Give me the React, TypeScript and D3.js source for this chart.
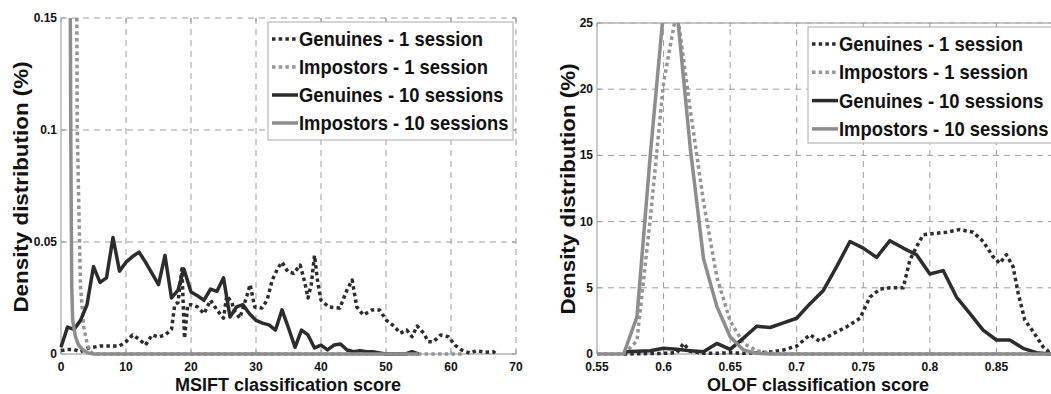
import * as d3 from 'd3';

type Pt = [number, number];

const W = 1051;
const H = 394;
const FONT = '"Liberation Sans", Arial, Helvetica, sans-serif';

const legendLabels = [
  'Genuines - 1 session',
  'Impostors - 1 session',
  'Genuines - 10 sessions',
  'Impostors - 10 sessions',
];

// MSIFT panel ticks
const msiftTicksX = [0, 10, 20, 30, 40, 50, 60, 70];
const msiftTicksY = [0, 0.05, 0.1, 0.15];
const msiftLabelsY = ['0', '0.05', '0.1', '0.15'];

// OLOF panel ticks (0.9 falls past the right edge, so it has no label)
const olofTicksX = [0.55, 0.6, 0.65, 0.7, 0.75, 0.8, 0.85, 0.9];
const olofLabelsX = ['0.55', '0.6', '0.65', '0.7', '0.75', '0.8', '0.85', ''];
const olofTicksY = [0, 5, 10, 15, 20, 25];

// MSIFT series (score, density)
const msiftGen1: Pt[] = [
  [0, 0.0015], [1, 0.002], [2, 0.002], [3, 0.001], [4, 0.0025], [5, 0.003], [6, 0.0036], [7, 0.0036],
  [8, 0.0036], [9, 0.0036], [10, 0.0055], [11, 0.0085], [12, 0.0067], [13, 0.004], [14, 0.0085],
  [15, 0.0076], [16, 0.0085], [17, 0.011], [17.5, 0.022], [18, 0.023], [18.6, 0.038], [19, 0.007],
  [19.5, 0.022], [20, 0.022], [21, 0.021], [22, 0.018], [23, 0.024], [24, 0.0196], [25, 0.016],
  [25.5, 0.026], [26.3, 0.023], [26.6, 0.0196], [27.5, 0.016], [28.6, 0.026], [29.1, 0.031],
  [29.8, 0.021], [30.9, 0.0205], [31.7, 0.024], [32.5, 0.033], [33.3, 0.038], [34, 0.041],
  [34.9, 0.0367], [35.8, 0.036], [36.8, 0.0397], [37.5, 0.032], [38, 0.025], [38.5, 0.031],
  [39, 0.044], [39.5, 0.032], [40, 0.024], [41.2, 0.021], [42.9, 0.0205], [44, 0.0286],
  [44.8, 0.033], [45.5, 0.021], [46.5, 0.0174], [47.8, 0.0196], [49, 0.0196], [50.1, 0.015],
  [51.2, 0.0125], [52.2, 0.0093], [53.2, 0.0107], [54, 0.0077], [54.8, 0.0125], [55.8, 0.0093],
  [56.5, 0.0055], [57.3, 0.0055], [58.4, 0.0085], [59.6, 0.0077], [60.6, 0.004], [61.6, 0.0018],
  [62.9, 0.0004], [63.9, 0.0015], [65.2, 0.0008], [66.5, 0.001], [67, 0],
];
const msiftImp1: Pt[] = [
  [2, 0.5], [2.5, 0.1], [3, 0.03], [3.5, 0.012], [4, 0.005], [4.5, 0.001], [5, 0], [62, 0],
];
const msiftGen10: Pt[] = [
  [0, 0.003], [1, 0.012], [2, 0.011], [3, 0.015], [4, 0.022], [5, 0.039], [6, 0.032], [7, 0.034],
  [8, 0.052], [9, 0.037], [10, 0.041], [11, 0.0435], [12, 0.0455], [13, 0.041], [14, 0.036],
  [15, 0.031], [16, 0.044], [17, 0.025], [18, 0.0285], [18.9, 0.038], [20, 0.0277], [21, 0.026],
  [22, 0.024], [23, 0.029], [24, 0.028], [25, 0.034], [26, 0.0165], [27, 0.021], [28, 0.022],
  [29, 0.018], [30, 0.015], [31, 0.0138], [32, 0.013], [33, 0.0107], [34, 0.0197], [35, 0.0116],
  [36, 0.003], [37, 0.0107], [38, 0.0085], [39, 0.0027], [40, 0.004], [41, 0.0018], [42, 0.004],
  [43, 0.0045], [44, 0.0018], [45, 0.001], [46, 0.0015], [47, 0.001], [48, 0.001], [49, 0.0005],
  [50, 0], [53, 0], [54, 0.001], [55, 0],
];
const msiftImp10: Pt[] = [
  [1, 0.5], [1.5, 0.1], [1.65, 0.03], [1.8, 0.015], [2.2, 0.008], [2.7, 0.004], [3.4, 0.0018],
  [4.2, 0.0005], [5, 0], [55, 0],
];

// OLOF series (score, density %)
const olofGen1: Pt[] = [
  [0.57, 0], [0.6, 0.05], [0.61, 0.1], [0.615, 0.8], [0.62, 0.2], [0.63, 0.05], [0.64, 0.05],
  [0.65, 0.1], [0.66, 0.05], [0.67, 0.1], [0.68, 0.15], [0.69, 0.3], [0.7, 0.6], [0.71, 1.45],
  [0.7175, 0.95], [0.7275, 1.55], [0.7375, 2.05], [0.7475, 2.7], [0.755, 4.3], [0.7625, 4.9],
  [0.77, 5.0], [0.78, 5.0], [0.785, 7.1], [0.79, 8.1], [0.795, 9.0], [0.8025, 9.1], [0.8125, 9.2],
  [0.8225, 9.4], [0.8325, 9.2], [0.84, 8.5], [0.8475, 7.35], [0.8525, 6.85], [0.8575, 7.5],
  [0.8625, 6.6], [0.8663, 4.6], [0.8713, 2.57], [0.8775, 1.7], [0.885, 0.55], [0.89, 0.1], [0.9, 0],
];
const olofImp1: Pt[] = [
  [0.55, 0], [0.57, 0], [0.58, 1], [0.59, 10.2], [0.6, 20.5], [0.61, 26], [0.62, 18.5], [0.63, 11.5],
  [0.64, 5.8], [0.65, 2.5], [0.66, 0.8], [0.67, 0.25], [0.68, 0.05], [0.69, 0], [0.9, 0],
];
const olofGen10: Pt[] = [
  [0.57, 0.17], [0.58, 0.2], [0.59, 0.25], [0.6, 0.43], [0.61, 0.35], [0.62, 0.25], [0.63, 0.17],
  [0.64, 0.8], [0.65, 0.35], [0.66, 1.2], [0.67, 2.1], [0.68, 2.0], [0.69, 2.35], [0.7, 2.7],
  [0.71, 3.8], [0.72, 4.8], [0.73, 6.6], [0.74, 8.5], [0.75, 8.0], [0.76, 7.3], [0.77, 8.56],
  [0.78, 8.0], [0.79, 7.5], [0.8, 6.04], [0.81, 6.3], [0.82, 4.3], [0.83, 3.07], [0.84, 1.8],
  [0.85, 1.06], [0.86, 1.06], [0.87, 0.43], [0.88, 0.1], [0.89, 0], [0.9, 0],
];
const olofImp10: Pt[] = [
  [0.55, 0], [0.57, 0], [0.58, 2.8], [0.59, 15], [0.6, 26], [0.61, 26], [0.62, 15.6], [0.63, 7.2],
  [0.64, 3.6], [0.65, 1.3], [0.66, 0.3], [0.67, 0.05], [0.68, 0], [0.9, 0],
];

const DARK = '#2c2c2c';
const GRAY = '#8d8d8d';
const GRAY_DOT = '#959595';
const GRID = '#9c9c9c';
const AXIS = '#b4b4b4';

const seriesStyle = [
  { color: DARK, dash: '3.5,3.2' },
  { color: GRAY_DOT, dash: '3.5,3.2' },
  { color: DARK, dash: null },
  { color: GRAY, dash: null },
];

type PanelProps = {
  id: string;
  xDomain: [number, number];
  xRange: [number, number];
  yDomain: [number, number];
  yRange: [number, number];
  xTicks: number[];
  xLabels: string[];
  yTicks: number[];
  yLabels: string[];
  series: Pt[][];
  xTitle: string;
  xTitleX: number;
  yTitleX: number;
  yTitleY: number;
  legend: { x: number; y: number; w: number; h: number; step: number };
  solidTop: boolean;
};

function Panel(p: PanelProps) {
  const x = d3.scaleLinear().domain(p.xDomain).range(p.xRange);
  const y = d3.scaleLinear().domain(p.yDomain).range(p.yRange);
  const line = d3.line<Pt>().x((d) => x(d[0])).y((d) => y(d[1]));
  const [x0, x1] = p.xRange;
  const [y0, y1] = p.yRange;
  const tickLen = 4;

  return (
    <g>
      <defs>
        <clipPath id={p.id}>
          <rect x={x0 - 3} y={y1} width={x1 - x0 + 6} height={y0 - y1 + 3} />
        </clipPath>
      </defs>

      {/* grid */}
      {p.xTicks.slice(1).map((t) => (
        <line key={'gx' + t} x1={x(t)} x2={x(t)} y1={y0} y2={y1} stroke={GRID} strokeWidth={1} strokeDasharray="6,5" />
      ))}
      {p.yTicks.slice(1).map((t) => (
        <line key={'gy' + t} x1={x0} x2={x1} y1={y(t)} y2={y(t)} stroke={GRID} strokeWidth={1} strokeDasharray="6,5" />
      ))}

      {/* frame */}
      <line x1={x0} x2={x0} y1={y0} y2={y1} stroke={AXIS} strokeWidth={1.4} />
      <line x1={x0} x2={x1} y1={y0} y2={y0} stroke={AXIS} strokeWidth={1.4} />
      {p.solidTop && <line x1={x0} x2={x1} y1={y1} y2={y1} stroke={AXIS} strokeWidth={1.4} />}

      {/* inward ticks */}
      {p.xTicks.map((t) => (
        <g key={'tx' + t}>
          <line x1={x(t)} x2={x(t)} y1={y0} y2={y0 - tickLen} stroke={GRID} />
          <line x1={x(t)} x2={x(t)} y1={y1} y2={y1 + tickLen} stroke={GRID} />
        </g>
      ))}
      {p.yTicks.map((t) => (
        <g key={'ty' + t}>
          <line x1={x0} x2={x0 + tickLen} y1={y(t)} y2={y(t)} stroke={GRID} />
          <line x1={x1} x2={x1 - tickLen} y1={y(t)} y2={y(t)} stroke={GRID} />
        </g>
      ))}

      {/* tick labels */}
      {p.xTicks.map((t, i) =>
        p.xLabels[i] ? (
          <text key={'lx' + t} x={x(t)} y={y0 + 17} textAnchor="middle" fontSize={12} fontWeight="bold" fill="#111">
            {p.xLabels[i]}
          </text>
        ) : null,
      )}
      {p.yTicks.map((t, i) => (
        <text key={'ly' + t} x={x0 - 4} y={y(t) + 4} textAnchor="end" fontSize={12} fontWeight="bold" fill="#111">
          {p.yLabels[i]}
        </text>
      ))}

      {/* titles */}
      <text x={p.xTitleX} y={y0 + 37} textAnchor="middle" fontSize={18} fontWeight="bold" fill="#111">
        {p.xTitle}
      </text>
      <text
        transform={`translate(${p.yTitleX},${p.yTitleY}) rotate(-90) scale(1.12,1)`}
        textAnchor="middle"
        fontSize={20}
        fontWeight="bold"
        fill="#111"
      >
        Density distribution (%)
      </text>

      {/* series */}
      <g clipPath={`url(#${p.id})`}>
        {p.series.map((s, i) => (
          <path
            key={'s' + i}
            d={line(s) ?? ''}
            fill="none"
            stroke={seriesStyle[i].color}
            strokeWidth={3.5}
            strokeDasharray={seriesStyle[i].dash ?? undefined}
            strokeLinejoin="round"
          />
        ))}
      </g>

      {/* legend */}
      <g>
        <rect x={p.legend.x} y={p.legend.y} width={p.legend.w} height={p.legend.h} fill="#fff" stroke="#b8b8b8" strokeWidth={1.2} />
        {legendLabels.map((lab, i) => {
          const cy = p.legend.y + 17 + i * p.legend.step;
          return (
            <g key={lab}>
              <line
                x1={p.legend.x + 4}
                x2={p.legend.x + 30}
                y1={cy}
                y2={cy}
                stroke={seriesStyle[i].color}
                strokeWidth={3.5}
                strokeDasharray={seriesStyle[i].dash ?? undefined}
              />
              <text
                transform={`translate(${p.legend.x + 31},${cy + 7}) scale(0.92,1)`}
                fontSize={20}
                fontWeight="bold"
                fill="#111"
              >
                {lab}
              </text>
            </g>
          );
        })}
      </g>
    </g>
  );
}

export default function App() {
  return (
    <svg
      width={W}
      height={H}
      style={{ position: 'absolute', left: 0, top: 0, background: '#fff', fontFamily: FONT }}
    >
      <rect width={W} height={H} fill="#fff" />
      <Panel
        id="clip-msift"
        xDomain={[0, 70]}
        xRange={[61, 516]}
        yDomain={[0, 0.15]}
        yRange={[354, 18]}
        xTicks={msiftTicksX}
        xLabels={msiftTicksX.map(String)}
        yTicks={msiftTicksY}
        yLabels={msiftLabelsY}
        series={[msiftGen1, msiftImp1, msiftGen10, msiftImp10]}
        xTitle="MSIFT classification score"
        xTitleX={288}
        yTitleX={28}
        yTitleY={187}
        legend={{ x: 268, y: 22, w: 245, h: 118, step: 28 }}
        solidTop={false}
      />
      <Panel
        id="clip-olof"
        xDomain={[0.55, 0.9]}
        xRange={[597, 1063]}
        yDomain={[0, 25]}
        yRange={[354, 23]}
        xTicks={olofTicksX}
        xLabels={olofLabelsX}
        yTicks={olofTicksY}
        yLabels={olofTicksY.map(String)}
        series={[olofGen1, olofImp1, olofGen10, olofImp10]}
        xTitle="OLOF classification score"
        xTitleX={818}
        yTitleX={575}
        yTitleY={189}
        legend={{ x: 808, y: 27, w: 260, h: 116, step: 28.3 }}
        solidTop={true}
      />
    </svg>
  );
}
